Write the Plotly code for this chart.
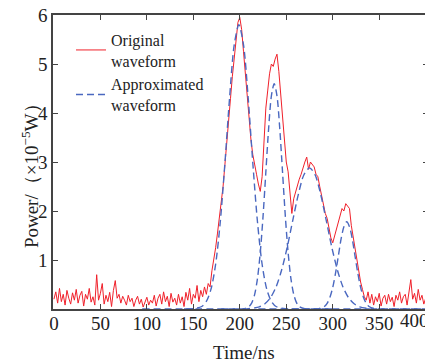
import plotly.graph_objects as go

# ---- data ----
time_ns = list(range(0, 401, 2))
original = [
    0.20, 0.35, 0.12, 0.42, 0.15, 0.30, 0.08, 0.38, 0.22, 0.10,
    0.33, 0.18, 0.40, 0.12, 0.28, 0.36, 0.06, 0.30, 0.20, 0.42,
    0.14, 0.25, 0.08, 0.70, 0.18, 0.32, 0.52, 0.10, 0.28, 0.15,
    0.34, 0.05, 0.38, 0.58, 0.22, 0.30, 0.12, 0.26, 0.18, 0.08,
    0.28,
    0.15, 0.22, 0.05, 0.18, 0.26, 0.10, 0.20, 0.04, 0.16, 0.24,
    0.08, 0.18, 0.12, 0.28, 0.06, 0.22, 0.30, 0.10, 0.35, 0.15,
    0.26, 0.05, 0.32, 0.14, 0.22, 0.08, 0.30, 0.12, 0.25, 0.05,
    0.34, 0.18, 0.42, 0.10, 0.30, 0.22, 0.48, 0.15, 0.38, 0.25,
    0.45, 0.30, 0.52, 0.45, 0.78, 1.00, 1.25, 1.55, 1.85, 2.15,
    2.50, 2.95, 3.35, 3.85, 4.30, 4.75, 5.10, 5.55, 5.85, 5.95,
    5.70, 5.25, 4.80, 4.30, 3.90, 3.45, 3.15, 2.90, 2.75, 2.55,
    2.40, 2.70, 3.30, 4.10, 4.45, 4.80, 5.00, 4.95, 5.10, 5.20,
    4.85, 4.40, 3.80, 3.35, 3.00, 2.80, 2.30, 1.95, 2.25, 2.40,
    2.55, 2.65, 2.75, 2.90, 3.00, 3.10, 2.85, 3.00, 2.95, 2.90,
    2.75, 2.70, 2.50, 2.30, 2.10, 1.95, 1.85, 1.65, 1.45, 1.35,
    1.50, 1.60, 1.80, 1.95, 2.05, 2.00, 2.15, 2.10, 2.05, 1.70,
    1.45, 1.20, 0.95, 0.75, 0.55, 0.40, 0.25, 0.18, 0.35, 0.12,
    0.30, 0.08, 0.25, 0.15, 0.32, 0.06, 0.22, 0.28, 0.10, 0.30,
    0.15, 0.24, 0.05, 0.28, 0.18, 0.35, 0.12, 0.25, 0.30, 0.08,
    0.36, 0.60, 0.20, 0.32, 0.12, 0.40, 0.18, 0.28, 0.10, 0.22,
]
assert len(original) == len(time_ns)

g1_t = [95, 139, 149, 159, 164, 169, 174, 179, 184, 189, 194, 199,
        204, 209, 214, 219, 224, 229, 234, 239, 249, 259, 300]
g1_v = [0, 0, 0.004, 0.051, 0.155, 0.405, 0.913, 1.78, 2.98, 4.31, 5.39, 5.80,
        5.39, 4.31, 2.98, 1.78, 0.913, 0.405, 0.155, 0.051, 0.004, 0, 0]

g2_t = [140, 192, 204, 210, 213, 216, 219, 222, 225, 228, 231, 234, 237,
        240, 243, 246, 249, 252, 255, 258, 261, 264, 270, 282, 340]
g2_v = [0, 0, 0.006, 0.051, 0.13, 0.30, 0.62, 1.15, 1.89, 2.79, 3.68, 4.35, 4.60,
        4.35, 3.68, 2.79, 1.89, 1.15, 0.62, 0.30, 0.13, 0.051, 0.006, 0, 0]

g3_t = [180, 195, 209, 221, 227, 233, 239, 245, 251, 257, 263, 269, 275,
        281, 287, 293, 299, 305, 311, 317, 323, 329, 341, 355, 400]
g3_v = [0, 0, 0.006, 0.044, 0.107, 0.23, 0.45, 0.795, 1.26, 1.81, 2.34, 2.74, 2.88,
        2.74, 2.34, 1.81, 1.26, 0.795, 0.45, 0.23, 0.107, 0.044, 0.006, 0, 0]

g4_t = [220, 275, 285, 291, 294, 297, 300, 303, 306, 309, 312, 315,
        318, 321, 324, 327, 330, 333, 336, 339, 345, 355, 400]
g4_v = [0, 0, 0.007, 0.051, 0.117, 0.24, 0.44, 0.73, 1.08, 1.43, 1.68, 1.78,
        1.68, 1.43, 1.08, 0.73, 0.44, 0.24, 0.117, 0.051, 0.007, 0, 0]

x_ticks = [0, 50, 100, 150, 200, 250, 300, 350, 400]
x_tick_text = ["0", "50", "100", "150", "200", "250", "300", "350", ""]
last_x_label = "400"   # drawn right-aligned at the axis end, as in the reference
y_ticks = [1, 2, 3, 4, 5, 6]

FONT = "Liberation Serif, Times New Roman, serif"
RED = "#f0202a"
BLUE = "#4a68c0"
TXT = "#222"

fig = go.Figure()
fig.add_trace(go.Scatter(
    x=time_ns, y=original, mode="lines",
    line=dict(color=RED, width=1),
    name="Original<br>waveform", legendgroup="o",
))
gauss = [(g1_t, g1_v), (g2_t, g2_v), (g3_t, g3_v), (g4_t, g4_v)]
for i, (gt, gv) in enumerate(gauss):
    fig.add_trace(go.Scatter(
        x=gt, y=gv, mode="lines",
        line=dict(color=BLUE, width=1.4, dash="7px,4px", shape="spline", smoothing=0.8),
        name="Approximated<br>waveform", legendgroup="a",
        showlegend=(i == 0),
    ))

axis_common = dict(
    showline=True, linecolor="#444", linewidth=1.5, mirror="ticks",
    ticks="inside", ticklen=5, tickcolor="#444", showgrid=False, zeroline=False,
    tickfont=dict(family=FONT, size=19, color=TXT), automargin=False,
    ticklabeloverflow="allow",
)
fig.update_xaxes(range=[-1, 402.5], tickvals=x_ticks, ticktext=x_tick_text,
                 ticklabelstandoff=-4, **axis_common)
fig.update_yaxes(range=[0, 6], tickvals=y_ticks, **axis_common)

fig.add_annotation(text=last_x_label, xref="x", yref="paper", x=x_ticks[-1], y=0,
                   xanchor="right", yanchor="top", xshift=5, yshift=1, showarrow=False,
                   font=dict(family=FONT, size=19, color=TXT))

# axis titles as annotations (placed like the reference)
fig.add_annotation(text="Time/ns", xref="paper", yref="paper", x=0.509, y=0,
                   xanchor="center", yanchor="middle", yshift=-43, showarrow=False,
                   font=dict(family=FONT, size=19, color=TXT))
fig.add_annotation(text="Power/（×10<sup>−5</sup>W）", xref="paper", yref="paper",
                   x=0, y=0.469, xshift=-23, xanchor="center", yanchor="middle",
                   textangle=-90, showarrow=False,
                   font=dict(family=FONT, size=19, color=TXT))

# the page body has an 8px margin, so the figure is sized to fit inside the window
fig.update_layout(
    width=425, height=356,
    margin=dict(l=45, r=5, t=7, b=55, autoexpand=False),
    paper_bgcolor="white", plot_bgcolor="white",
    font=dict(family=FONT, size=16, color=TXT),
    showlegend=True,
    legend=dict(x=0.048, y=0.974, xanchor="left", yanchor="top",
                bgcolor="rgba(0,0,0,0)", borderwidth=0,
                itemwidth=30, tracegroupgap=0,
                font=dict(family=FONT, size=16, color=TXT)),
)

fig.write_html("out.html")
